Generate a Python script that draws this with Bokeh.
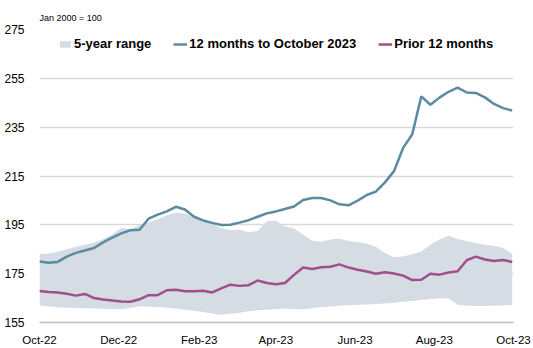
import pandas as pd
from bokeh.plotting import figure
from bokeh.models import (ColumnDataSource, FixedTicker, DatetimeTickFormatter,
                          Range1d, Legend, LegendItem)
from bokeh.embed import file_html
from bokeh.resources import INLINE

# ---- data (weekly, Jan 2000 = 100) ----
dates = pd.date_range("2022-10-01", periods=53, freq="7D")

last_12m = [180.0, 179.5, 179.8, 182.0, 183.5, 184.5, 185.5, 187.8, 189.8, 191.5,
            192.8, 193.0, 197.5, 199.2, 200.5, 202.4, 201.3, 198.3, 196.8, 195.8,
            194.9, 195.0, 195.9, 196.9, 198.3, 199.7, 200.5, 201.5, 202.5, 205.2,
            206.0, 206.0, 205.0, 203.4, 203.0, 204.9, 207.2, 208.6, 212.4, 217.0,
            226.5, 232.0, 247.6, 244.2, 247.1, 249.5, 251.2, 249.2, 249.0, 247.2,
            244.5, 242.8, 241.8]

prior_12m = [167.9, 167.5, 167.3, 166.8, 166.0, 166.7, 165.0, 164.4, 164.0, 163.6,
             163.5, 164.5, 166.2, 166.2, 168.2, 168.4, 167.8, 167.8, 168.0, 167.3,
             169.0, 170.5, 170.0, 170.3, 172.2, 171.2, 170.7, 171.2, 174.5, 177.5,
             176.9, 177.6, 177.8, 178.8, 177.5, 176.6, 175.9, 175.0, 175.6, 175.1,
             174.2, 172.4, 172.5, 175.0, 174.6, 175.5, 176.0, 180.5, 182.0, 180.8,
             180.2, 180.6, 179.8]

range_high = [183.0, 183.3, 184.0, 185.0, 186.0, 186.8, 187.7, 189.2, 191.0, 193.8,
              193.2, 194.8, 196.0, 197.4, 198.8, 200.0, 199.6, 198.2, 196.6, 195.3,
              193.6, 192.8, 193.1, 192.0, 192.5, 196.5, 196.8, 194.3, 193.5, 191.0,
              188.5, 188.1, 189.0, 189.3, 188.4, 188.0, 187.3, 186.0, 183.5, 181.7,
              182.0, 183.0, 184.1, 186.8, 189.0, 190.5, 189.2, 188.4, 187.5, 186.8,
              186.4, 185.5, 183.1]

range_low = [162.0, 161.6, 161.2, 161.0, 160.9, 160.8, 160.7, 160.6, 160.5, 160.4,
             160.9, 161.7, 161.5, 161.3, 161.0, 160.6, 160.2, 159.8, 159.3, 158.6,
             158.2, 158.6, 159.0, 159.6, 160.0, 160.2, 160.5, 160.7, 160.5, 160.4,
             160.8, 161.3, 161.6, 161.9, 162.1, 162.3, 162.4, 162.6, 162.8, 163.1,
             163.5, 163.8, 164.2, 164.6, 164.9, 164.8, 162.3, 161.9, 161.8, 161.8,
             161.9, 162.0, 162.2]

y_ticks = [155, 175, 195, 215, 235, 255, 275]
x_tick_months = ["2022-10-01", "2022-12-01", "2023-02-01", "2023-04-01",
                 "2023-06-01", "2023-08-01", "2023-10-01"]
series_names = ["5-year range", "12 months to October 2023", "Prior 12 months"]

FONT = "Liberation Sans"
BAND = "#d6dce4"
BLUE = "#5b8ba1"
PINK = "#a04f8c"

src = ColumnDataSource(dict(x=dates, last=last_12m, prior=prior_12m,
                            hi=range_high, lo=range_low))

p = figure(width=533, height=348, x_axis_type="datetime",
           output_backend="svg", toolbar_location=None,
           x_range=Range1d(pd.Timestamp("2022-10-01"), pd.Timestamp("2023-10-01")),
           y_range=Range1d(155, 275),
           min_border_left=39, min_border_right=20, min_border_top=29,
           min_border_bottom=23)
p.outline_line_color = None
p.background_fill_color = "white"

r_band = p.varea(x="x", y1="lo", y2="hi", source=src, fill_color=BAND)
r_blue = p.line(x="x", y="last", source=src, line_color=BLUE, line_width=2.5)
r_pink = p.line(x="x", y="prior", source=src, line_color=PINK, line_width=2.5)

# axes
p.xaxis.ticker = FixedTicker(ticks=[pd.Timestamp(d).value // 10**6 for d in x_tick_months])
fmt = "%b-%y"
p.xaxis.formatter = DatetimeTickFormatter(days=fmt, months=fmt, years=fmt,
                                          hours=fmt, minutes=fmt, seconds=fmt)
p.xaxis.axis_line_color = "#bfbfbf"
p.xaxis.axis_line_width = 1.5
p.xaxis.major_tick_line_color = None
p.xaxis.minor_tick_line_color = None
p.xaxis.major_label_standoff = 5
p.xaxis.major_label_text_font = FONT
p.xaxis.major_label_text_font_size = "11.5px"
p.xaxis.major_label_text_color = "#000000"

p.yaxis.ticker = FixedTicker(ticks=y_ticks)
p.yaxis.axis_line_color = None
p.yaxis.major_tick_line_color = None
p.yaxis.minor_tick_line_color = None
p.yaxis.major_label_standoff = 9
p.yaxis.major_label_text_font = FONT
p.yaxis.major_label_text_font_size = "12px"
p.yaxis.major_label_text_color = "#000000"

p.xgrid.grid_line_color = None
p.ygrid.grid_line_color = "#d9d9d9"
p.ygrid.grid_line_width = 1.5

# subtitle
p.title.text = "Jan 2000 = 100"
p.title.text_font = FONT
p.title.text_font_size = "9px"
p.title.text_font_style = "normal"
p.title.text_color = "#000000"
p.title.align = "left"
p.title.standoff = 14

legend = Legend(items=[LegendItem(label=series_names[0], renderers=[r_band]),
                       LegendItem(label=series_names[1], renderers=[r_blue]),
                       LegendItem(label=series_names[2], renderers=[r_pink])],
                orientation="horizontal", location=(19, 271))
legend.border_line_color = None
legend.background_fill_alpha = 0
legend.padding = 0
legend.margin = 0
legend.spacing = 22
legend.glyph_width = 14
legend.glyph_height = 8
legend.label_standoff = 2
legend.label_height = 14
legend.label_text_font = FONT
legend.label_text_font_size = "13px"
legend.label_text_font_style = "bold"
legend.label_text_color = "#000000"
p.add_layout(legend, "center")

open("out.html", "w").write(file_html(p, INLINE))
